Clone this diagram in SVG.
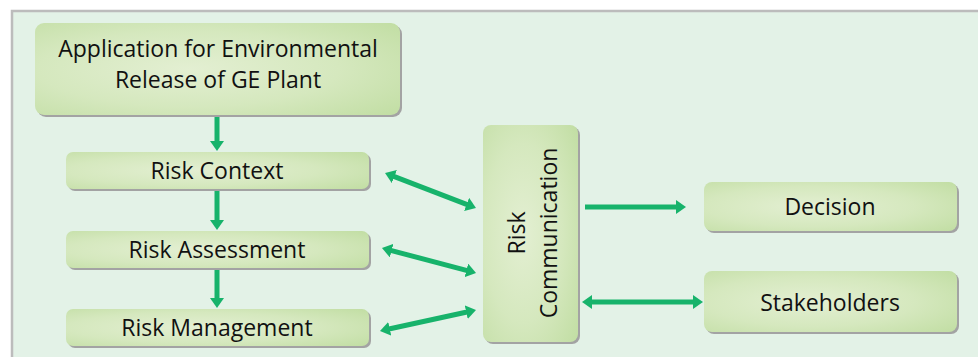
<svg xmlns="http://www.w3.org/2000/svg" width="978" height="357" viewBox="0 0 978 357">
<defs>
<radialGradient id="g" cx="0.42" cy="0.5" r="0.75">
<stop offset="0" stop-color="#e3efd2"/>
<stop offset="0.55" stop-color="#d5e8be"/>
<stop offset="1" stop-color="#c2dea4"/>
</radialGradient>
<marker id="ah" viewBox="0 0 10 14" refX="2" refY="7" markerWidth="10" markerHeight="14" markerUnits="userSpaceOnUse" orient="auto-start-reverse">
<path d="M0,0 L10,7 L0,14 z" fill="#17b36b"/>
</marker>
<style>
.box{fill:url(#g)}
.sh{fill:#a3a3a3}
.t{font-family:"Open Sans","Noto Sans","Liberation Sans",sans-serif;font-size:23px;fill:#111;text-anchor:middle}
.c{fill:none;stroke:#17b36b;stroke-width:5}
</style>
</defs>
<rect x="0" y="0" width="978" height="357" fill="#ffffff"/>
<rect x="12" y="11" width="990" height="370" fill="#e3f2e7" stroke="#bcbcbc" stroke-width="2.5"/>

<g id="connectors">
<path class="c" d="M217,116 L217,143" marker-end="url(#ah)"/>
<path class="c" d="M217,190 L217,222" marker-end="url(#ah)"/>
<path class="c" d="M217,269 L217,300" marker-end="url(#ah)"/>
<path class="c" d="M392.5,175.9 L468.5,205.1" marker-start="url(#ah)" marker-end="url(#ah)"/>
<path class="c" d="M389.7,250.1 L468.3,270.9" marker-start="url(#ah)" marker-end="url(#ah)"/>
<path class="c" d="M387.8,329.3 L468.2,311.7" marker-start="url(#ah)" marker-end="url(#ah)"/>
<path class="c" d="M585,207 L678,207" marker-end="url(#ah)"/>
<path class="c" d="M590,302 L695,302" marker-start="url(#ah)" marker-end="url(#ah)"/>
</g>

<g id="application">
<rect class="sh" x="37" y="25" width="365" height="92" rx="9"/>
<rect class="box" x="35" y="23" width="365" height="92" rx="9"/>
<text class="t" x="218" y="57">Application for Environmental</text>
<text class="t" x="218" y="88">Release of GE Plant</text>
</g>

<g id="risk-context">
<rect class="sh" x="68" y="154" width="303" height="37" rx="7"/>
<rect class="box" x="66" y="152" width="303" height="37" rx="7"/>
<text class="t" x="217" y="179">Risk Context</text>
</g>

<g id="risk-assessment">
<rect class="sh" x="68" y="233" width="303" height="37" rx="7"/>
<rect class="box" x="66" y="231" width="303" height="37" rx="7"/>
<text class="t" x="217" y="258">Risk Assessment</text>
</g>

<g id="risk-management">
<rect class="sh" x="68" y="311" width="303" height="37" rx="7"/>
<rect class="box" x="66" y="309" width="303" height="37" rx="7"/>
<text class="t" x="217" y="336">Risk Management</text>
</g>

<g id="risk-communication">
<rect class="sh" x="485" y="127" width="95" height="217" rx="8"/>
<rect class="box" x="483" y="125" width="95" height="217" rx="8"/>
<text class="t" transform="translate(525,233) rotate(-90)">Risk</text>
<text class="t" transform="translate(557,233) rotate(-90)">Communication</text>
</g>

<g id="decision">
<rect class="sh" x="706" y="184" width="253" height="49" rx="8"/>
<rect class="box" x="704" y="182" width="253" height="49" rx="8"/>
<text class="t" x="830" y="215">Decision</text>
</g>

<g id="stakeholders">
<rect class="sh" x="706" y="273" width="253" height="61" rx="8"/>
<rect class="box" x="704" y="271" width="253" height="61" rx="8"/>
<text class="t" x="830" y="311">Stakeholders</text>
</g>
</svg>
